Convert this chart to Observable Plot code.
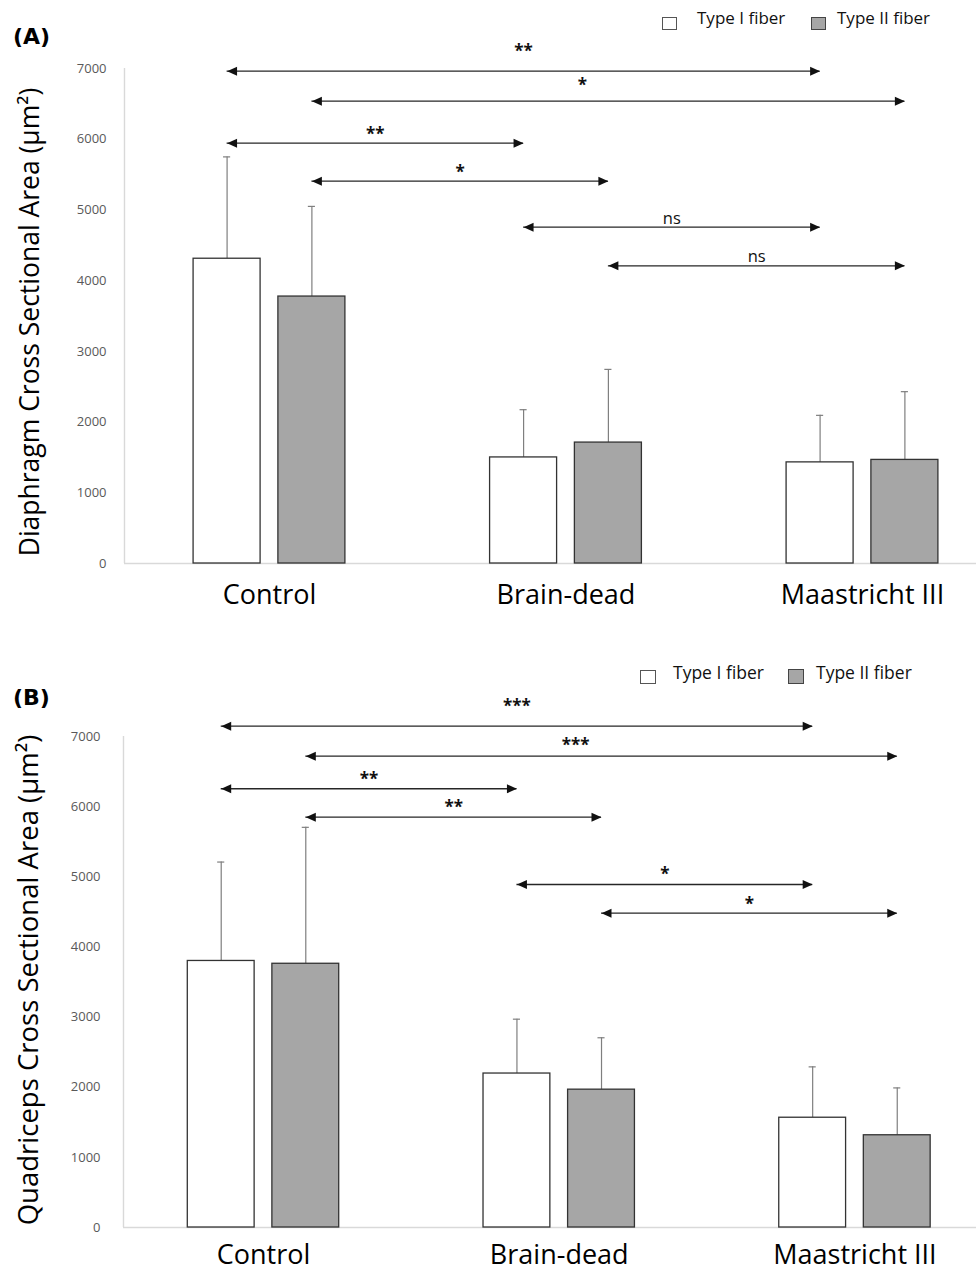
<!DOCTYPE html>
<html><head><meta charset="utf-8">
<script src="https://cdn.jsdelivr.net/npm/d3@7"></script>
<script src="https://cdn.jsdelivr.net/npm/@observablehq/plot@0.6"></script>
<style>
body{margin:0;background:#fff;}
#page{position:relative;width:976px;height:1271px;overflow:hidden;font-family:"Open Sans",sans-serif;background:#fff;}
#page svg{position:absolute;left:0;}
.tag{position:absolute;font-family:"DejaVu Sans",sans-serif;font-weight:bold;font-size:22px;line-height:22px;color:#000;white-space:nowrap;}
.sw{position:absolute;box-sizing:border-box;border:1px solid #555;}
.lt{position:absolute;font-family:"Open Sans",sans-serif;color:#111;white-space:nowrap;}
</style></head>
<body><div id="page"></div>
<script>
// ---------- data ----------
const categories = ["Control", "Brain-dead", "Maastricht III"];
const fiberTypes = ["Type I fiber", "Type II fiber"];
const yTicks = [0, 1000, 2000, 3000, 4000, 5000, 6000, 7000];

// Panel A: diaphragm (mean and upper SD, µm²)
const diaTypeI = [4310, 1500, 1430];
const diaTypeISD = [1440, 675, 665];
const diaTypeII = [3775, 1710, 1465];
const diaTypeIISD = [1275, 1035, 965];
// comparisons: from/to category index, fiber type (0 = I, 1 = II), bracket level, label level
const diaFrom = [0, 0, 0, 0, 1, 1];
const diaTo = [2, 2, 1, 1, 2, 2];
const diaType = [0, 1, 0, 1, 0, 1];
const diaLevel = [6962, 6538, 5944, 5407, 4756, 4210];
const diaLabelLevel = [7293, 6819, 6128, 5591, 4865, 4332];
const diaLabels = ["**", "*", "**", "*", "ns", "ns"];

// Panel B: quadriceps
const quadTypeI = [3800, 2195, 1565];
const quadTypeISD = [1410, 775, 725];
const quadTypeII = [3760, 1965, 1315];
const quadTypeIISD = [1945, 740, 675];
const quadFrom = [0, 0, 0, 0, 1, 1];
const quadTo = [2, 2, 1, 1, 2, 2];
const quadType = [0, 1, 0, 1, 0, 1];
const quadLevel = [7147, 6720, 6255, 5850, 4890, 4481];
const quadLabelLevel = [7481, 6933, 6440, 6041, 5086, 4666];
const quadLabels = ["***", "***", "**", "**", "*", "*"];

// ---------- drawing ----------
const triLeft = {draw(ctx) { ctx.moveTo(0, 0); ctx.lineTo(10, -4.5); ctx.lineTo(10, 4.5); ctx.closePath(); }};
const triRight = {draw(ctx) { ctx.moveTo(0, 0); ctx.lineTo(-10, -4.5); ctx.lineTo(-10, 4.5); ctx.closePath(); }};

function panel(cfg) {
  const rows = [];
  categories.forEach((c, i) => {
    rows.push({cat: i, type: 0, value: cfg.typeI[i], sd: cfg.typeISD[i]});
    rows.push({cat: i, type: 1, value: cfg.typeII[i], sd: cfg.typeIISD[i]});
  });
  const sig = cfg.from.map((f, i) => ({idx: i, from: f, to: cfg.to[i], type: cfg.type[i], level: cfg.level[i], labelY: cfg.labelLevel[i], label: cfg.labels[i]}));
  const OFF = 0.143, HW = 0.113, CAP = 0.012;
  const off = t => t === 0 ? -OFF : OFF;
  const cx = d => d.cat + off(d.type);
  const sx1 = s => s.from + off(s.type);
  const sx2 = s => s.to + off(s.type);
  const mid = s => (sx1(s) + sx2(s)) / 2;
  const xmin = cfg.xDomain[0];
  const stars = sig.filter(s => s.label !== "ns");
  const ns = sig.filter(s => s.label === "ns");
  return Plot.plot({
    width: 976,
    height: cfg.height,
    marginLeft: cfg.marginLeft,
    marginRight: 0,
    marginTop: cfg.marginTop,
    marginBottom: cfg.marginBottom,
    x: {domain: cfg.xDomain, axis: null},
    y: {domain: [0, 7000], axis: null},
    style: {fontFamily: "Open Sans", background: "white", overflow: "visible"},
    marks: [
      Plot.ruleY([0], {stroke: "#d9d9d9", strokeWidth: 1.4}),
      Plot.ruleX([xmin], {y1: 0, y2: 7000, stroke: "#d9d9d9", strokeWidth: 1.4}),
      Plot.text(yTicks, {x: xmin, y: d => d, text: d => String(d), textAnchor: "end", dx: cfg.tickDx, fill: "#595959", fontSize: 13}),
      Plot.text(categories, {x: (d, i) => i, y: 0, text: d => d, dy: cfg.catDy, fontSize: 27, fill: "#000"}),
      Plot.text([cfg.yTitle], {text: d => d, frameAnchor: "left", textAnchor: "middle", rotate: -90, dx: -94, dy: cfg.titleDy, fontSize: cfg.titleSize, fill: "#000"}),
      Plot.ruleX(rows, {x: cx, y1: "value", y2: d => d.value + d.sd, stroke: "#7f7f7f", strokeWidth: 1.2}),
      Plot.ruleY(rows, {y: d => d.value + d.sd, x1: d => cx(d) - CAP, x2: d => cx(d) + CAP, stroke: "#7f7f7f", strokeWidth: 1.2}),
      Plot.rectY(rows.filter(d => d.type === 0), {x1: d => cx(d) - HW, x2: d => cx(d) + HW, y1: 0, y2: "value", fill: "#ffffff", stroke: "#333", strokeWidth: 1.3}),
      Plot.rectY(rows.filter(d => d.type === 1), {x1: d => cx(d) - HW, x2: d => cx(d) + HW, y1: 0, y2: "value", fill: "#a6a6a6", stroke: "#333", strokeWidth: 1.3}),
      Plot.ruleY(sig, {y: "level", x1: sx1, x2: sx2, stroke: "#262626", strokeWidth: 1.3}),
      Plot.dot(sig, {x: sx1, y: "level", symbol: triLeft, fill: "#111", stroke: "none"}),
      Plot.dot(sig, {x: sx2, y: "level", symbol: triRight, fill: "#111", stroke: "none"}),
      Plot.text(stars.filter(s => s.idx !== 1), {x: mid, y: "labelY", text: "label", dy: 4, fontSize: 17, fontWeight: "bold", fill: "#111"}),
      Plot.text(stars.filter(s => s.idx === 1), {x: mid, y: "labelY", text: "label", dy: 4, dx: -26, fontSize: 17, fontWeight: "bold", fill: "#111"}),
      Plot.text(ns, {x: mid, y: "labelY", text: "label", dy: -0.8, fontSize: 16.5, fill: "#111"})
    ]
  });
}

const page = document.getElementById("page");

const svgA = panel({
  typeI: diaTypeI, typeISD: diaTypeISD, typeII: diaTypeII, typeIISD: diaTypeIISD,
  from: diaFrom, to: diaTo, type: diaType, level: diaLevel, labelLevel: diaLabelLevel, labels: diaLabels,
  yTitle: "Diaphragm Cross Sectional Area (µm²)",
  height: 620, marginTop: 68, marginBottom: 57, marginLeft: 124,
  xDomain: [-0.489, 2.3845], tickDx: -18, titleDy: 6, catDy: 31.4, titleSize: 26.5
});
svgA.style.top = "0px";
page.appendChild(svgA);

const svgB = panel({
  typeI: quadTypeI, typeISD: quadTypeISD, typeII: quadTypeII, typeIISD: quadTypeIISD,
  from: quadFrom, to: quadTo, type: quadType, level: quadLevel, labelLevel: quadLabelLevel, labels: quadLabels,
  yTitle: "Quadriceps Cross Sectional Area (µm²)",
  height: 631, marginTop: 96, marginBottom: 44, marginLeft: 123,
  xDomain: [-0.4734, 2.411], tickDx: -23, titleDy: -2, catDy: 27.4, titleSize: 27.5
});
svgB.style.top = "640px";
page.appendChild(svgB);

// ---------- panel tags and legends (HTML) ----------
function addDiv(cls, css, text) {
  const el = document.createElement("div");
  el.className = cls;
  Object.assign(el.style, css);
  if (text != null) el.textContent = text;
  page.appendChild(el);
}
addDiv("tag", {left: "13px", top: "26px"}, "(A)");
addDiv("tag", {left: "13px", top: "687px"}, "(B)");

addDiv("sw", {left: "662px", top: "17px", width: "15px", height: "13px", background: "#ffffff"});
addDiv("lt", {left: "697px", top: "9px", fontSize: "17px", lineHeight: "17px"}, fiberTypes[0]);
addDiv("sw", {left: "811px", top: "17px", width: "15px", height: "13px", background: "#a6a6a6", borderColor: "#444"});
addDiv("lt", {left: "837px", top: "9px", fontSize: "17px", lineHeight: "17px"}, fiberTypes[1]);

addDiv("sw", {left: "640px", top: "670px", width: "16px", height: "14px", background: "#ffffff"});
addDiv("lt", {left: "673px", top: "664px", fontSize: "17.5px", lineHeight: "17.5px"}, fiberTypes[0]);
addDiv("sw", {left: "788px", top: "669px", width: "16px", height: "15px", background: "#a6a6a6", borderColor: "#444"});
addDiv("lt", {left: "816px", top: "664px", fontSize: "17.5px", lineHeight: "17.5px"}, fiberTypes[1]);
</script>
</body></html>
